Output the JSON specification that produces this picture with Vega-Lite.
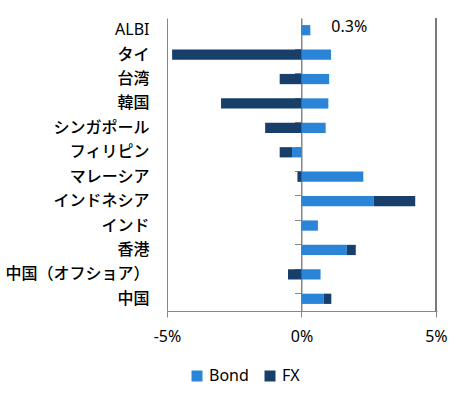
{
  "$schema": "https://vega.github.io/schema/vega-lite/v6.json",
  "width": 270,
  "height": 293,
  "autosize": {"type": "none"},
  "padding": {"left": 167, "top": 18, "right": 19, "bottom": 85},
  "background": "white",
  "config": {"view": {"stroke": null}, "font": "Noto Sans, Noto Sans CJK JP"},
  "data": {
    "values": [
      {"region": "ALBI", "series": "Bond", "value": 0.33, "label": "0.3%"},
      {"region": "ALBI", "series": "FX", "value": 0},
      {"region": "タイ", "series": "Bond", "value": 1.10},
      {"region": "タイ", "series": "FX", "value": -4.81},
      {"region": "台湾", "series": "Bond", "value": 1.03},
      {"region": "台湾", "series": "FX", "value": -0.81},
      {"region": "韓国", "series": "Bond", "value": 1.00},
      {"region": "韓国", "series": "FX", "value": -2.99},
      {"region": "シンガポール", "series": "Bond", "value": 0.90},
      {"region": "シンガポール", "series": "FX", "value": -1.35},
      {"region": "フィリピン", "series": "Bond", "value": -0.35},
      {"region": "フィリピン", "series": "FX", "value": -0.46},
      {"region": "マレーシア", "series": "Bond", "value": 2.30},
      {"region": "マレーシア", "series": "FX", "value": -0.15},
      {"region": "インドネシア", "series": "Bond", "value": 2.69},
      {"region": "インドネシア", "series": "FX", "value": 1.54},
      {"region": "インド", "series": "Bond", "value": 0.59},
      {"region": "インド", "series": "FX", "value": 0.02},
      {"region": "香港", "series": "Bond", "value": 1.69},
      {"region": "香港", "series": "FX", "value": 0.33},
      {"region": "中国（オフショア）", "series": "Bond", "value": 0.71},
      {"region": "中国（オフショア）", "series": "FX", "value": -0.50},
      {"region": "中国", "series": "Bond", "value": 0.83},
      {"region": "中国", "series": "FX", "value": 0.28}
    ]
  },
  "layer": [
    {
      "mark": {"type": "bar"},
      "encoding": {
        "y": {
          "field": "region", "type": "nominal",
          "sort": ["ALBI", "タイ", "台湾", "韓国", "シンガポール", "フィリピン", "マレーシア", "インドネシア", "インド", "香港", "中国（オフショア）", "中国"],
          "scale": {"paddingInner": 0.58, "paddingOuter": 0.29},
          "axis": {"title": null, "domain": false, "ticks": false, "labelFontSize": 16,
            "labelFontWeight": {"condition": {"test": "datum.value === 'ALBI'", "value": "normal"}, "value": 500},
            "labelPadding": 18, "labelColor": "#000", "grid": false}
        },
        "x": {
          "field": "value", "type": "quantitative", "stack": "zero",
          "scale": {"domain": [-5, 5.04], "nice": false, "zero": false},
          "axis": {"title": null, "values": [-5, 0, 5], "labelExpr": "datum.value + '%'", "labelFlush": false, "grid": true, "gridColor": "#868686", "gridOpacity": 1, "domainColor": "#868686", "tickColor": "#868686", "tickSize": 6, "labelFontSize": 16, "labelPadding": 11, "labelColor": "#000"}
        },
        "color": {
          "field": "series", "type": "nominal",
          "scale": {"domain": ["Bond", "FX"], "range": ["#2A85D8", "#173F6A"]},
          "legend": {"title": null, "orient": "none", "legendX": 22, "legendY": 350, "direction": "horizontal", "symbolType": "square", "symbolSize": 121, "symbolStrokeWidth": 0, "labelFontSize": 16, "labelOffset": 4, "columnPadding": 13, "labelColor": "#000"}
        },
        "order": {"field": "series", "sort": "ascending"}
      }
    },
    {
      "transform": [{"filter": "datum.label != null"}],
      "mark": {"type": "text", "align": "left", "baseline": "middle", "dx": 21, "dy": -3, "fontSize": 16, "color": "#000"},
      "encoding": {
        "y": {
          "field": "region", "type": "nominal",
          "sort": ["ALBI", "タイ", "台湾", "韓国", "シンガポール", "フィリピン", "マレーシア", "インドネシア", "インド", "香港", "中国（オフショア）", "中国"],
          "axis": {"title": null, "orient": "left", "offset": -134.5, "labels": false, "ticks": true, "tickSize": 7, "domain": true, "domainColor": "#868686", "tickColor": "#868686", "bandPosition": 0, "grid": false,
            "values": ["タイ", "台湾", "韓国", "シンガポール", "フィリピン", "マレーシア", "インドネシア", "インド", "香港", "中国（オフショア）", "中国"]}
        },
        "x": {"field": "value", "type": "quantitative"},
        "text": {"field": "label"}
      }
    },
    {
      "mark": {"type": "rule", "color": "#7a7a7a", "strokeWidth": 1.2},
      "encoding": {"x": {"datum": 5, "type": "quantitative"}}
    }
  ],
  "resolve": {"axis": {"y": "independent"}}
}
